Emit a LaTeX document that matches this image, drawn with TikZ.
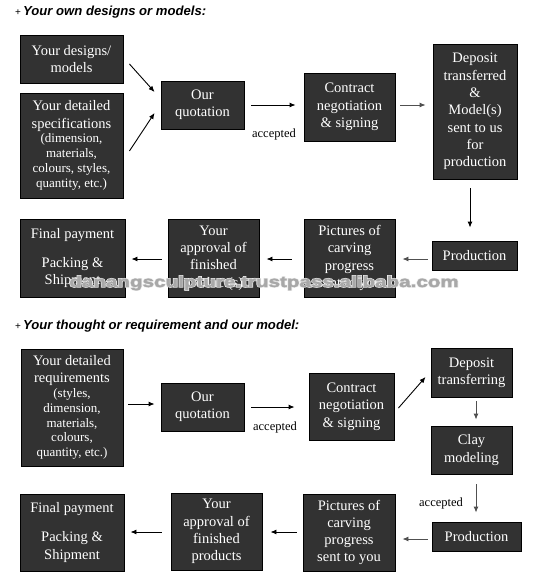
\documentclass[tikz,border=0pt]{standalone}
\usepackage{graphicx}
\usepackage{fontspec}
\setmainfont{Liberation Serif}
\newfontfamily\hdfont{Liberation Sans}
\newfontfamily\wmfont[FakeBold=1.8]{Liberation Sans Bold}
\newfontfamily\wmhalo[FakeBold=9]{Liberation Sans Bold}
\usetikzlibrary{arrows.meta}
\definecolor{boxfill}{RGB}{50,50,50}
\definecolor{wmgray}{RGB}{168,168,168}
\definecolor{wmhalocol}{RGB}{236,236,236}
\definecolor{arrgray}{RGB}{80,80,80}
\newcommand{\smtxt}{\fontsize{13}{14.5}\selectfont}
\newcommand{\wmtext}{\scalebox{1.33}[1]{danangsculpture.trustpass.alibaba.com}}
\begin{document}
\begin{tikzpicture}[x=1pt,y=-1pt,
  box/.style={draw=black,line width=0.9pt,fill=boxfill,text=white,align=center,inner sep=0pt,font=\fontsize{14.5}{17.3}\selectfont},
  arr/.style={draw=black,line width=0.9pt,-{Latex[length=6pt,width=5pt]}},
  garr/.style={draw=arrgray,line width=0.9pt,-{Latex[length=6pt,width=5pt]}},
  lbl/.style={font=\fontsize{12.5}{14}\selectfont,inner sep=0pt},
  head/.style={anchor=west,inner sep=0pt,font=\hdfont\fontsize{13.1}{14}\selectfont},
  wm/.style={anchor=base,inner sep=0pt}
]
\useasboundingbox[fill=white] (0,0) rectangle (532,572);

% ---------- section 1 ----------
\node[head] (h1) at (15,12) {{\fontsize{10}{12}\selectfont +}\,\textbf{\textit{Your own designs or models:}}};

\node[box,minimum width=103pt,minimum height=48pt] (d1) at (71.5,59) {Your designs/\\models};
\node[box,minimum width=103pt,minimum height=105pt] (s1) at (71.5,145.5)
  {Your detailed\\specifications\\[-2.5pt]{\smtxt (dimension,}\\[-2.5pt]{\smtxt materials,}\\[-2.5pt]{\smtxt colours, styles,}\\[-2.5pt]{\smtxt quantity, etc.)}};
\node[box,minimum width=83pt,minimum height=48pt] (q1) at (202.5,105) {Our\\quotation};
\node[box,minimum width=91pt,minimum height=68pt] (c1) at (349.5,107) {Contract\\negotiation\\\& signing};
\node[box,minimum width=84pt,minimum height=135pt] (dep1) at (475,111.5)
  {Deposit\\transferred\\\&\\Model(s)\\sent to us\\for\\production};
\node[box,minimum width=85pt,minimum height=29pt] (p1) at (474.5,255.5) {Production};
\node[box,minimum width=91pt,minimum height=78pt] (pic1) at (349.5,258) {Pictures of\\carving\\progress\\sent to you};
\node[box,minimum width=91pt,minimum height=78pt] (ap1) at (213.5,258) {Your\\approval of\\finished\\product(s)};
\node[box,minimum width=105pt,minimum height=78pt] (fp1) at (72.5,258) {Final payment\\[12pt]Packing \&\\Shipment};

\draw[arr] ([shift={(6,5)}]d1.east) -- ([shift={(-6,-13)}]q1.west);
\draw[arr] ([shift={(6,5.5)}]s1.east) -- ([shift={(-6,8)}]q1.west);
\draw[arr] ([shift={(7,0)}]q1.east) -- ([shift={(-8,-2)}]c1.west);
\node[lbl] (acc1) at (274,134) {accepted};
\draw[garr] ([shift={(5,-2)}]c1.east) -- ([shift={(-7,-6.5)}]dep1.west);
\draw[arr] ([shift={(-5,9)}]dep1.south) -- ([shift={(-4.5,-13)}]p1.north);
\draw[garr] ([shift={(-4,3.5)}]p1.west) -- ([shift={(7,1)}]pic1.east);
\draw[arr] ([shift={(-12,1)}]pic1.west) -- ([shift={(7,1)}]ap1.east);
\draw[arr] ([shift={(-6,1)}]ap1.west) -- ([shift={(6,1)}]fp1.east);

% watermark (light halo, then heavy grey letters)
\node[wm,text=wmhalocol,font=\wmhalo\fontsize{15.5}{16}\selectfont] (wmh) at (264,287) {\wmtext};
\node[wm,text=wmgray,font=\wmfont\fontsize{15.5}{16}\selectfont] (wm) at (264,287) {\wmtext};

% ---------- section 2 ----------
\node[head] (h2) at (15,326) {{\fontsize{10}{12}\selectfont +}\,\textbf{\textit{Your thought or requirement and our model:}}};

\node[box,minimum width=102pt,minimum height=117pt] (r2) at (72,407.5)
  {Your detailed\\requirements\\[-2.5pt]{\smtxt (styles,}\\[-2.5pt]{\smtxt dimension,}\\[-2.5pt]{\smtxt materials,}\\[-2.5pt]{\smtxt colours,}\\[-2.5pt]{\smtxt quantity, etc.)}};
\node[box,minimum width=83pt,minimum height=48pt] (q2) at (202.5,407) {Our\\quotation};
\node[box,minimum width=85pt,minimum height=67pt] (c2) at (351.5,406.5) {Contract\\negotiation\\\& signing};
\node[box,minimum width=81pt,minimum height=49pt] (dt2) at (471.5,372.5) {Deposit\\transferring};
\node[box,minimum width=81pt,minimum height=48pt] (cl2) at (471.5,450) {Clay\\modeling};
\node[box,minimum width=89pt,minimum height=29pt] (p2) at (476.5,536.5) {Production};
\node[box,minimum width=92pt,minimum height=77pt] (pic2) at (349,532.5) {Pictures of\\carving\\progress\\sent to you};
\node[box,minimum width=91pt,minimum height=77pt] (ap2) at (216.5,531.5) {Your\\approval of\\finished\\products};
\node[box,minimum width=104pt,minimum height=77pt] (fp2) at (72,532.5) {Final payment\\[12pt]Packing \&\\Shipment};

\draw[arr] ([shift={(5,-3.5)}]r2.east) -- ([shift={(-6,-3)}]q2.west);
\draw[arr] ([shift={(7,0)}]q2.east) -- ([shift={(-14,0.5)}]c2.west);
\node[lbl] (acc2) at (275,427) {accepted};
\draw[arr] ([shift={(4,1.5)}]c2.east) -- ([shift={(-5,4.5)}]dt2.west);
\draw[garr] ([shift={(4.5,4)}]dt2.south) -- ([shift={(4.5,-6)}]cl2.north);
\draw[garr] ([shift={(4.5,10)}]cl2.south) -- ([shift={(-0.5,-9)}]p2.north);
\node[lbl] (acc3) at (441,503) {accepted};
\draw[garr] ([shift={(-4,2.5)}]p2.west) -- ([shift={(7,6.5)}]pic2.east);
\draw[arr] ([shift={(-6,-0.5)}]pic2.west) -- ([shift={(8,0.5)}]ap2.east);
\draw[arr] ([shift={(-9,0.5)}]ap2.west) -- ([shift={(6,-0.5)}]fp2.east);
\end{tikzpicture}
\end{document}
